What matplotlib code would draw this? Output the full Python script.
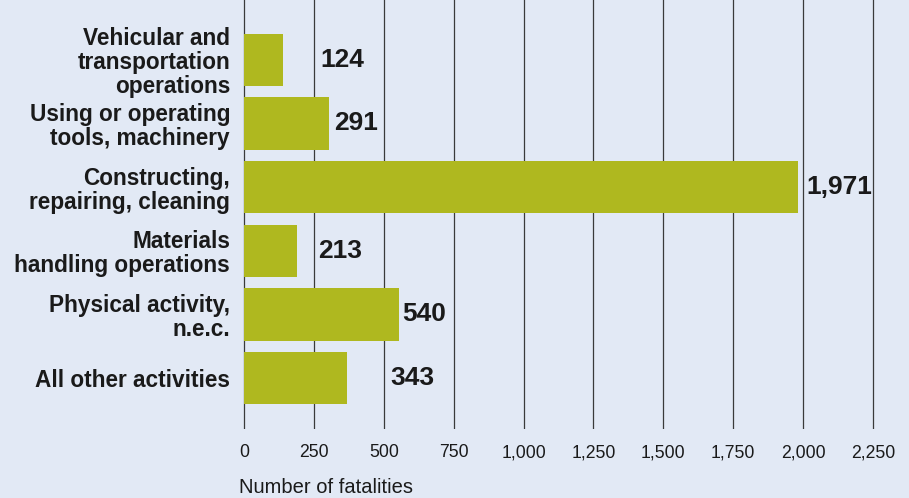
import matplotlib
matplotlib.use("Agg")
import matplotlib.pyplot as plt
from matplotlib import font_manager

categories = [
    "Vehicular and\ntransportation\noperations",
    "Using or operating\ntools, machinery",
    "Constructing,\nrepairing, cleaning",
    "Materials\nhandling operations",
    "Physical activity,\nn.e.c.",
    "All other activities",
]
# printed values
fatalities = [124, 291, 1971, 213, 540, 343]
# bar lengths as drawn in the original graphic
bar_lengths = [139, 304, 1980, 189, 555, 369]
xticks = [0, 250, 500, 750, 1000, 1250, 1500, 1750, 2000, 2250]

# label gap from bar end, in points (the original is not consistent)
label_pad = [27, 4, 6.5, 15, 2, 31]

BG = "#e2e9f5"
BAR = "#afb81f"
INK = "#1a1a1a"

names = {f.name for f in font_manager.fontManager.ttflist}
FONT = "Liberation Sans" if "Liberation Sans" in names else "DejaVu Sans"
plt.rcParams["font.family"] = FONT

fig = plt.figure(figsize=(9.09, 4.98), dpi=100, facecolor=BG)
W, H = 909, 498
s = 629 / 2250  # px per unit
x0, x1 = -20, 2275
left_px = 244 + x0 * s
ax = fig.add_axes([left_px / W, 69 / H, (x1 - x0) * s / W, 429 / H])
ax.set_facecolor(BG)

ypos = list(range(len(categories)))
ax.barh(ypos, bar_lengths, height=0.82, color=BAR, zorder=2)

for y, v, n, p in zip(ypos, bar_lengths, fatalities, label_pad):
    ax.annotate(f"{n:,}", (v, y), xytext=(p, 0), textcoords="offset points",
                ha="left", va="center", fontsize=19, fontweight="bold", color=INK)

ax.set_xlim(x0, x1)
ax.set_ylim(5.8, -0.94)
ax.set_xticks(xticks)
ax.set_xticklabels([f"{t:,}" for t in xticks], fontsize=12.7, color=INK)
ax.set_yticks(ypos)
ax.set_yticklabels(categories, fontsize=16.3, fontweight="bold", color=INK,
                   linespacing=1.05)
for lbl in ax.get_yticklabels():
    lbl.set_multialignment("right")
ax.tick_params(axis="x", length=0, pad=11)
ax.tick_params(axis="y", length=0, pad=(244 - 230 - 20 * s) * 0.72)

ax.grid(True, axis="x", color="#3a3a3a", linewidth=0.9, zorder=0)
ax.set_axisbelow(True)
for sp in ax.spines.values():
    sp.set_visible(False)

fig.text(239 / W, 1 - 487 / H, "Number of fatalities", ha="left", va="center",
         fontsize=14.5, color=INK)

fig.savefig("out.png", dpi=100, facecolor=BG)
